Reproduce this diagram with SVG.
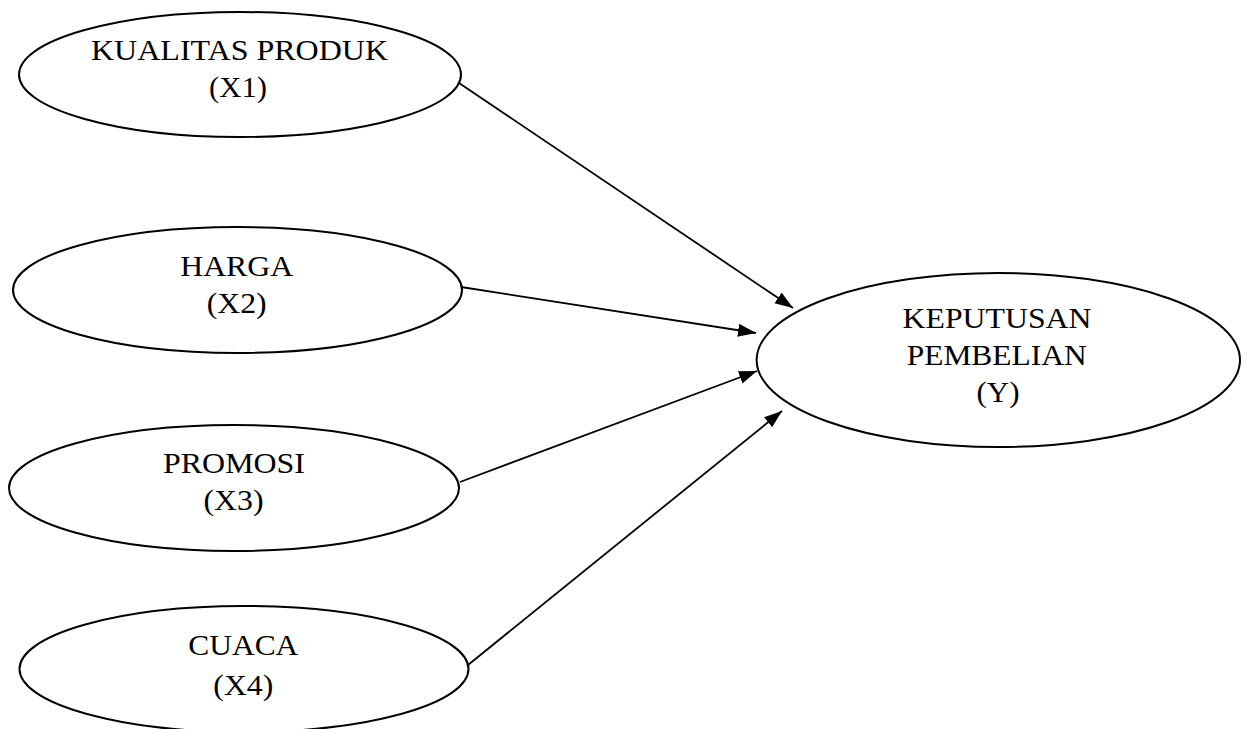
<svg xmlns="http://www.w3.org/2000/svg" width="1247" height="729" viewBox="0 0 1247 729">
<style>
.node ellipse { fill: #ffffff; stroke: #000000; stroke-width: 2; }
.node text { font-family: "Liberation Serif", "Times New Roman", serif; font-size: 30px; fill: #000000; text-anchor: middle; }
.edge { stroke: #000000; stroke-width: 1.8; fill: none; marker-end: url(#arrow); }
</style>
<defs>
<marker id="arrow" markerUnits="userSpaceOnUse" markerWidth="20" markerHeight="14" refX="18" refY="6.5" orient="auto">
<path d="M0,0 L18,6.5 L0,13 z" fill="#000000"/>
</marker>
</defs>
<rect width="1247" height="729" fill="#ffffff"/>
<g id="connectors">
<line class="edge" x1="459" y1="83" x2="793" y2="308"/>
<line class="edge" x1="461" y1="287" x2="756" y2="333"/>
<line class="edge" x1="460" y1="482" x2="757" y2="371"/>
<line class="edge" x1="468" y1="665" x2="782" y2="411"/>
</g>
<g id="x1" class="node">
<ellipse cx="240" cy="74.5" rx="221" ry="62.5"/>
<text x="239.5" y="60" textLength="297" lengthAdjust="spacingAndGlyphs">KUALITAS PRODUK</text>
<text x="238" y="97" textLength="58" lengthAdjust="spacingAndGlyphs">(X1)</text>
</g>
<g id="x2" class="node">
<ellipse cx="237.5" cy="290" rx="224.5" ry="63"/>
<text x="236.7" y="275.5" textLength="113" lengthAdjust="spacingAndGlyphs">HARGA</text>
<text x="236.7" y="313" textLength="60" lengthAdjust="spacingAndGlyphs">(X2)</text>
</g>
<g id="x3" class="node">
<ellipse cx="234" cy="488" rx="225" ry="63"/>
<text x="234" y="473" textLength="142" lengthAdjust="spacingAndGlyphs">PROMOSI</text>
<text x="233.5" y="510" textLength="60" lengthAdjust="spacingAndGlyphs">(X3)</text>
</g>
<g id="x4" class="node">
<ellipse cx="244" cy="669" rx="224.5" ry="63"/>
<text x="243.3" y="655" textLength="110" lengthAdjust="spacingAndGlyphs">CUACA</text>
<text x="243.3" y="695" textLength="60" lengthAdjust="spacingAndGlyphs">(X4)</text>
</g>
<g id="y" class="node">
<ellipse cx="998.3" cy="360" rx="241.7" ry="87"/>
<text x="997" y="328" textLength="189" lengthAdjust="spacingAndGlyphs">KEPUTUSAN</text>
<text x="996.7" y="365" textLength="180" lengthAdjust="spacingAndGlyphs">PEMBELIAN</text>
<text x="998" y="402" textLength="43" lengthAdjust="spacingAndGlyphs">(Y)</text>
</g>
</svg>
